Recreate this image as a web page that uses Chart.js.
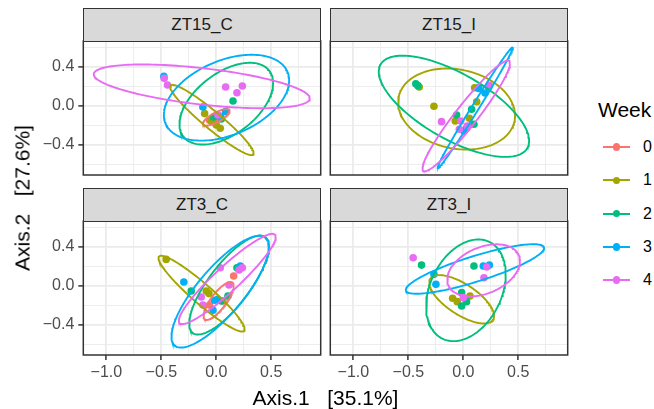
<!DOCTYPE html>
<html><head><meta charset="utf-8">
<script src="https://cdn.jsdelivr.net/npm/chart.js@4.4.1/dist/chart.umd.min.js"></script>
<style>
html,body{margin:0;padding:0;background:#fff;}
body{width:654px;height:409px;position:relative;overflow:hidden;font-family:"Liberation Sans",Arial,Helvetica,sans-serif;}
canvas{position:absolute;}
.strip{position:absolute;box-sizing:border-box;background:#D9D9D9;border:1.5px solid #333;color:#1A1A1A;font-size:17px;display:flex;align-items:center;justify-content:center;}
.title{position:absolute;color:#000;font-size:21px;white-space:pre;line-height:1;}
.lg{position:absolute;}
</style>
</head><body>
<script>
// ---- data ----
const weeks = ['0','1','2','3','4'];
const weekColors = ['#F8766D','#A3A500','#00BF7D','#00B0F6','#E76BF3'];
const panels = ['ZT15_C','ZT15_I','ZT3_C','ZT3_I'];
const xTicks = [-1.0,-0.75,-0.5,-0.25,0,0.25,0.5,0.75];
const xLabels = ['\u22121.0','','\u22120.5','','0.0','','0.5',''];
const yTicks = [-0.6,-0.4,-0.2,0,0.2,0.4,0.6];
const yLabels = ['','\u22120.4','','0.0','','0.4',''];
const xTitle = 'Axis.1   [35.1%]';
const yTitle = 'Axis.2   [27.6%]';
const legendTitle = 'Week';

// points: [week, Axis.1, Axis.2]
const ptsZT15_C = [
 [0,-0.061,-0.146],[0,0.015,-0.106],[0,-0.015,-0.167],
 [1,-0.106,-0.078],[1,0.0,-0.194],[1,0.036,-0.228],[1,-0.046,-0.153],
 [2,0.152,0.051],[2,-0.024,-0.112],[2,0.046,-0.133],
 [3,-0.477,0.303],[3,-0.122,-0.010],[3,0.085,-0.058],[3,0.036,-0.106],
 [4,-0.474,0.283],[4,-0.444,0.215],[4,0.085,0.194],[4,0.188,0.136],[4,0.237,0.204],[4,0.015,-0.092]
];
const ptsZT15_I = [
 [1,-0.401,0.194],[1,-0.267,-0.003],[1,0.122,0.044],[1,0.103,0.187],[1,-0.073,-0.153],[1,0.055,-0.126],
 [2,-0.432,0.228],[2,-0.413,0.208],[2,-0.061,-0.092],[2,0.076,-0.034],[2,0.140,0.187],[2,0.097,-0.187],
 [3,0.140,0.180],[3,0.198,0.133],[3,0.231,0.194],[3,0.006,-0.255],[3,0.030,-0.228],
 [4,-0.198,-0.160],[4,0.237,0.211],[4,-0.036,-0.238],[4,0.036,-0.204],[4,-0.024,-0.153]
];
const ptsZT3_C = [
 [0,0.158,0.102],[0,-0.061,-0.194],[0,0.061,-0.153],
 [1,-0.456,0.272],[1,-0.091,-0.051],[1,-0.067,-0.078],
 [2,-0.228,-0.051],[2,0.106,-0.102],[2,0.188,0.187],[2,0.046,-0.153],
 [3,-0.295,0.041],[3,-0.015,-0.146],[3,0.015,-0.136],[3,-0.030,-0.249],[3,0.219,0.204],
 [4,0.036,0.187],[4,0.207,0.163],[4,-0.137,-0.112],[4,-0.122,-0.194],[4,0.116,0.010],[4,0.237,0.187]
];
const ptsZT3_I = [
 [1,-0.097,-0.126],[1,-0.055,-0.160],[1,0.061,-0.102],
 [2,-0.380,0.214],[2,0.097,0.204],[2,-0.015,-0.068],[2,-0.015,-0.204],[2,0.030,-0.160],
 [3,-0.267,0.119],[3,-0.249,0.017],[3,0.182,0.204],[3,0.237,0.214],
 [4,-0.456,0.289],[4,0.213,0.194],[4,0.188,0.085],[4,0.0,-0.119]
];
// ellipses: [week, centre1, centre2, rightmost-offset1, rightmost-offset2, vertical half-chord]
const ellZT15_C = [
 [0,0.0,-0.116,0.122,0.065,0.054],
 [1,-0.040,-0.143,0.380,-0.340,0.116],
 [2,0.091,0.024,0.426,0.211,0.361],
 [3,0.093,0.085,0.570,0.177,0.402],
 [4,-0.132,0.201,0.983,-0.123,0.187]
];
const ellZT15_I = [
 [1,-0.061,-0.031,0.532,-0.068,0.409],
 [2,-0.085,-0.003,0.684,-0.354,0.378],
 [3,0.109,-0.017,0.343,0.616,0.068],
 [4,0.027,-0.102,0.398,0.538,0.177]
];
const ellZT3_C = [
 [0,0.021,-0.153,0.137,0.153,0.119],
 [1,-0.134,-0.078,0.392,-0.364,0.133],
 [2,0.116,0.010,0.362,0.395,0.317],
 [3,0.036,-0.058,0.444,0.460,0.340],
 [4,0.100,0.072,0.441,0.429,0.170]
];
const ellZT3_I = [
 [1,-0.015,-0.136,0.295,-0.170,0.180],
 [2,0.024,-0.044,0.362,0.163,0.494],
 [3,0.106,0.174,0.629,0.214,0.136],
 [4,0.185,0.160,0.331,0.095,0.249]
];
const panelPts = [ptsZT15_C, ptsZT15_I, ptsZT3_C, ptsZT3_I];
const panelEll = [ellZT15_C, ellZT15_I, ellZT3_C, ellZT3_I];

// ---- layout ----
const FONT = '"Liberation Sans", Arial, Helvetica, sans-serif';
const XMIN = -1.210, XMAX = 0.950, YMIN = -0.706, YMAX = 0.665;
const PL = [83.3, 330.3, 83.3, 330.3], PT = [41, 41, 221, 221];
const PW = 237.4, PH = 134;
const STRIP_H = 33.5;

function isMajorX(v){return Math.abs(v*2-Math.round(v*2))<1e-6;}
function isMajorY(v){return Math.abs(v/0.4-Math.round(v/0.4))<1e-6;}
function ellipsePath(e){
  const [w,cx,cy,ux,uy,k]=e; const out=[];
  for(let i=0;i<=160;i++){const t=i/160*2*Math.PI; out.push({x:cx+ux*Math.cos(t), y:cy+uy*Math.cos(t)+k*Math.sin(t)});}
  return out;
}
const borderPlugin={id:'pborder',afterDraw(chart){const a=chart.chartArea,c=chart.ctx;c.save();c.strokeStyle='#333333';c.lineWidth=1.5;c.strokeRect(a.left,a.top,a.right-a.left,a.bottom-a.top);c.restore();}};

panels.forEach((name,i)=>{
  const showY = i%2===0, showX = i>=2;
  const L=PL[i], T=PT[i], R=L+PW, B=T+PH;
  const cl = Math.floor(L)-(showY?70:4), ct = Math.floor(T)-5;
  const cw = Math.ceil(R)+5-cl, ch = Math.ceil(B)+(showX?40:5)-ct;
  const cv=document.createElement('canvas');
  cv.width=cw; cv.height=ch; cv.style.left=cl+'px'; cv.style.top=ct+'px'; cv.style.width=cw+'px'; cv.style.height=ch+'px';
  document.body.appendChild(cv);
  // strip
  const st=document.createElement('div'); st.className='strip'; st.textContent=name;
  st.style.left=(L-0.75)+'px'; st.style.top=(T-STRIP_H)+'px'; st.style.width=(PW+1.5)+'px'; st.style.height=(STRIP_H+0.75)+'px';
  document.body.appendChild(st);

  const datasets=[];
  const ells=panelEll[i], pts=panelPts[i];
  ells.forEach(e=>{
    const w=e[0];
    datasets.push({type:'scatter',showLine:true,data:ellipsePath(e),borderColor:weekColors[w],borderWidth:1.9,pointRadius:0,fill:false,tension:0,order:10-w});
  });
  weeks.forEach((wk,w)=>{
    const d=pts.filter(p=>p[0]===w).map(p=>({x:p[1],y:p[2]}));
    if(d.length) datasets.push({type:'scatter',data:d,backgroundColor:weekColors[w],borderWidth:0,pointRadius:3.8,order:30-w});
  });
  new Chart(cv,{
    type:'scatter',
    data:{datasets},
    plugins:[borderPlugin],
    options:{
      responsive:false,animation:false,devicePixelRatio:1,events:[],
      layout:{autoPadding:false,padding:{left:0,top:T-ct,right:cl+cw-R,bottom:0}},
      plugins:{legend:{display:false},tooltip:{enabled:false}},
      scales:{
        x:{type:'linear',min:XMIN,max:XMAX,
          afterBuildTicks:s=>{s.ticks=xTicks.map(v=>({value:v}));},
          afterFit:s=>{s.height=ct+ch-B;s.paddingLeft=0;s.paddingRight=0;s.paddingTop=0;s.paddingBottom=0;},
          ticks:{display:showX,autoSkip:false,maxRotation:0,minRotation:0,padding:3,color:'#4D4D4D',font:{size:16,family:FONT},callback:(v,idx)=>xLabels[idx]},
          grid:{color:'#EBEBEB',lineWidth:c=>(c.tick&&isMajorX(c.tick.value))?1.8:0.9,drawTicks:showX,tickLength:5,
                tickColor:c=>(c.tick&&isMajorX(c.tick.value))?'#333333':'rgba(0,0,0,0)',tickWidth:1.5},
          border:{display:false}},
        y:{type:'linear',min:YMIN,max:YMAX,
          afterBuildTicks:s=>{s.ticks=yTicks.map(v=>({value:v}));},
          afterFit:s=>{s.width=L-cl;s.paddingLeft=0;s.paddingRight=0;s.paddingTop=0;s.paddingBottom=0;},
          ticks:{display:showY,autoSkip:false,padding:4,color:'#4D4D4D',font:{size:16,family:FONT},callback:(v,idx)=>yLabels[idx]},
          grid:{color:'#EBEBEB',lineWidth:c=>(c.tick&&isMajorY(c.tick.value))?1.8:0.9,drawTicks:showY,tickLength:5,
                tickColor:c=>(c.tick&&isMajorY(c.tick.value))?'#333333':'rgba(0,0,0,0)',tickWidth:1.5},
          border:{display:false}}
      }
    }
  });
});

// axis titles
const xt=document.createElement('div'); xt.className='title'; xt.textContent=xTitle;
xt.style.left='325.5px'; xt.style.top='397px'; xt.style.transform='translate(-50%,-50%)';
document.body.appendChild(xt);
const yt=document.createElement('div'); yt.className='title'; yt.textContent=yTitle;
yt.style.left='22px'; yt.style.top='198px'; yt.style.transform='translate(-50%,-50%) rotate(-90deg)';
document.body.appendChild(yt);

// legend
const lt=document.createElement('div'); lt.className='title'; lt.textContent=legendTitle;
lt.style.left='598px'; lt.style.top='109px'; lt.style.transform='translateY(-50%)';
document.body.appendChild(lt);
weeks.forEach((wk,w)=>{
  const cy=147+w*33.3;
  const ln=document.createElement('div'); ln.className='lg';
  ln.style.cssText=`left:603px;top:${cy-1}px;width:27px;height:2px;background:${weekColors[w]};`;
  document.body.appendChild(ln);
  const dt=document.createElement('div'); dt.className='lg';
  dt.style.cssText=`left:${616.5-3.8}px;top:${cy-3.8}px;width:7.6px;height:7.6px;border-radius:50%;background:${weekColors[w]};`;
  document.body.appendChild(dt);
  const tx=document.createElement('div'); tx.className='lg';
  tx.style.cssText=`left:643px;top:${cy}px;transform:translateY(-50%);font-size:16px;color:#000;line-height:1;`;
  tx.textContent=wk;
  document.body.appendChild(tx);
});
</script>
</body></html>
